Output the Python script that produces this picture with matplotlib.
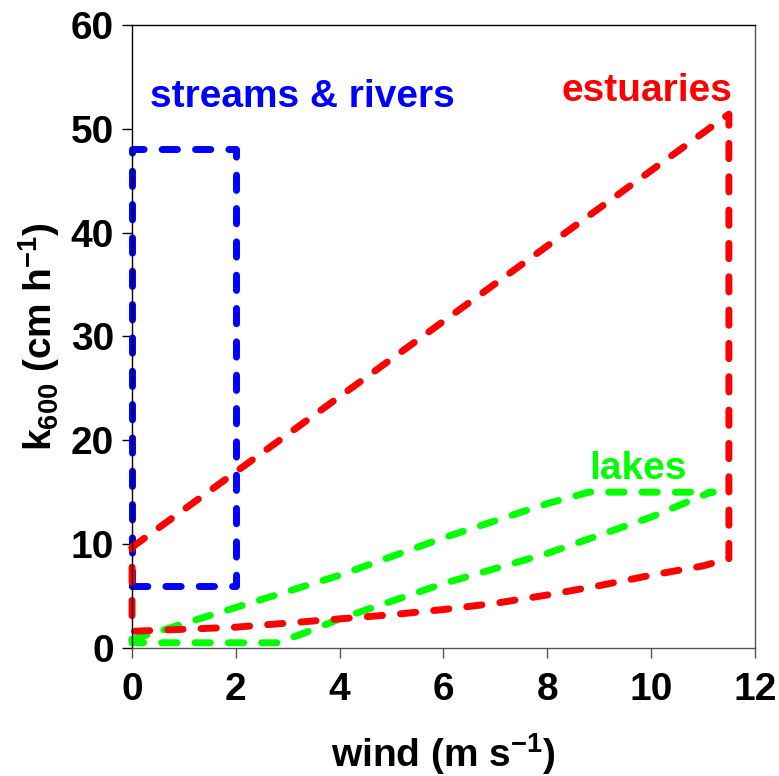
import matplotlib
matplotlib.use("Agg")
import matplotlib.pyplot as plt

plt.rcParams["font.family"] = ["Liberation Sans", "DejaVu Sans"]
plt.rcParams["font.weight"] = "bold"
plt.rcParams["mathtext.fontset"] = "custom"
plt.rcParams["mathtext.rm"] = "Liberation Sans:bold"
plt.rcParams["mathtext.default"] = "rm"

# outlines of the k600 ranges, traced clockwise
streams_x = [0, 0, 2, 2, 0]
streams_y = [6, 48, 48, 6, 6]

lakes_x = [0, 2, 4, 6, 8, 8.8, 11.2, 11.1, 10, 8, 6, 4, 3.3, 2.8, 0, 0]
lakes_y = [0.8, 3.9, 7.0, 10.6, 13.9, 15.0, 15.0, 14.9, 12.6, 9.1, 6.2, 2.8, 1.4, 0.5, 0.5, 0.8]

estuary_x = [0, 11.5, 11.5, 11, 10, 9, 8, 7, 6, 5, 4, 3, 2, 1, 0, 0]
estuary_y = [9.7, 51.4, 8.6, 7.9, 7.0, 6.0, 5.1, 4.3, 3.7, 3.2, 2.8, 2.4, 2.0, 1.8, 1.6, 9.7]

xticks = [0, 2, 4, 6, 8, 10, 12]
yticks = [0, 10, 20, 30, 40, 50, 60]

fig = plt.figure(figsize=(7.79, 7.76), dpi=100)
ax = fig.add_axes([0.1695, 0.165, 0.7995, 0.803])

style = dict(lw=5, dashes=(2.2, 2.6), dash_capstyle="round",
             solid_joinstyle="round", dash_joinstyle="round", clip_on=False)
ax.plot(streams_x, streams_y, color="#0000ff", **style)
ax.plot(lakes_x, lakes_y, color="#00ff00", **style)
ax.plot(estuary_x, estuary_y, color="#ff0000", **style)

ax.text(0.35, 52.1, "streams & rivers", color="#0000ff", fontsize=28, fontweight="bold")
ax.text(11.56, 52.7, "estuaries", color="#ff0000", fontsize=28, fontweight="bold", ha="right")
ax.text(8.8, 16.3, "lakes", color="#00ff00", fontsize=28, fontweight="bold")

ax.set_xlim(0, 12)
ax.set_ylim(0, 60)
ax.set_xticks(xticks)
ax.set_yticks(yticks)
ax.tick_params(axis="both", direction="out", length=7, width=1, labelsize=28, pad=6)
ax.tick_params(axis="x", color="#555555", pad=10)
for side in ["bottom", "right"]:
    ax.spines[side].set_color("#555555")
for sp in ax.spines.values():
    sp.set_linewidth(1)

ax.set_xlabel("wind (m s$^{-1}$)", fontsize=28, fontweight="bold", labelpad=17)
ax.set_ylabel("k$_{600}$ (cm h$^{-1}$)", fontsize=28, fontweight="bold", labelpad=6)

fig.savefig("out.png", dpi=100)
